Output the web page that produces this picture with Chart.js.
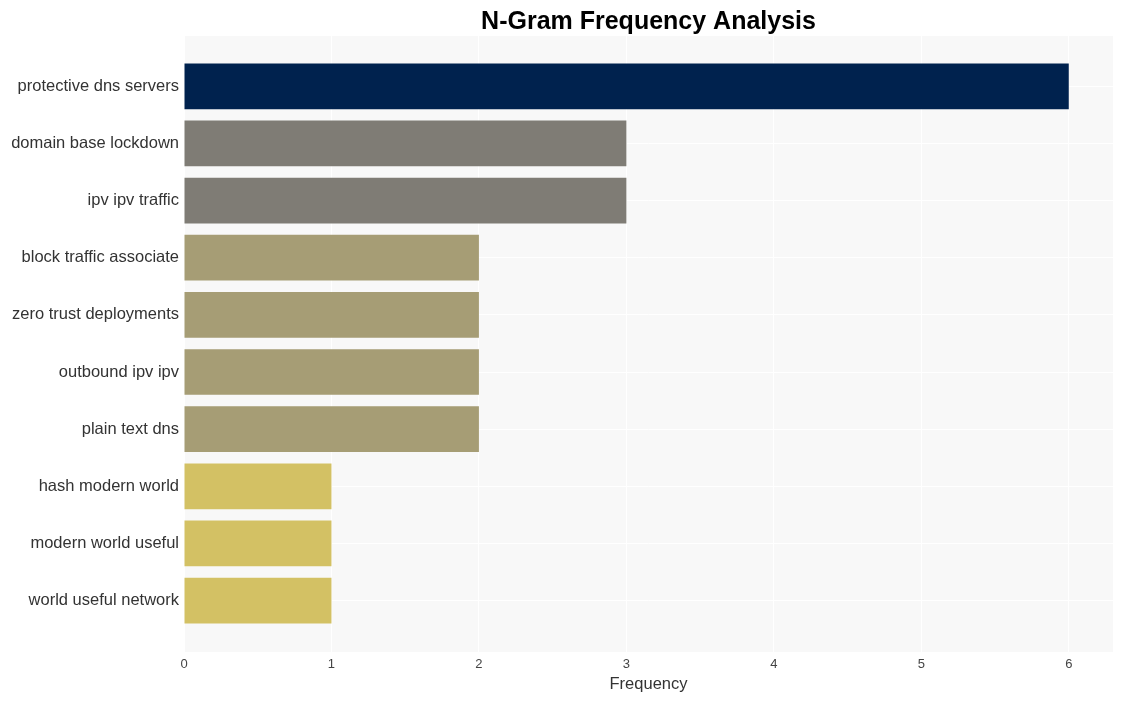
<!DOCTYPE html>
<html>
<head>
<meta charset="utf-8">
<script src="https://cdn.jsdelivr.net/npm/chart.js@4"></script>
<style>
html,body{margin:0;padding:0;background:#fff;}
canvas{display:block;}
</style>
</head>
<body>
<canvas id="c" width="1124" height="701"></canvas>
<script>
const categories = ["protective dns servers","domain base lockdown","ipv ipv traffic","block traffic associate","zero trust deployments","outbound ipv ipv","plain text dns","hash modern world","modern world useful","world useful network"];
const frequencies = [6,3,3,2,2,2,2,1,1,1];
const barColors = ["#00224e","#7f7c75","#7f7c75","#a69d75","#a69d75","#a69d75","#a69d75","#d3c164","#d3c164","#d3c164"];
const xTickValues = [0,1,2,3,4,5,6];

const points = categories.map((c, i) => ({ x: frequencies[i], y: i }));

const bgPlugin = {
  id: 'plotBg',
  beforeDraw(chart) {
    const {ctx, chartArea: a} = chart;
    ctx.save();
    ctx.fillStyle = '#f8f8f8';
    ctx.fillRect(a.left, a.top, a.right - a.left, a.bottom - a.top);
    ctx.restore();
  }
};

const font = 'Liberation Sans, Arial, sans-serif';

new Chart(document.getElementById('c'), {
  type: 'bar',
  data: {
    datasets: [{
      data: points,
      backgroundColor: barColors,
      borderWidth: 0,
      categoryPercentage: 1,
      barPercentage: 0.8
    }]
  },
  options: {
    indexAxis: 'y',
    responsive: false,
    animation: false,
    devicePixelRatio: 1,
    layout: { padding: { left: 0, right: 11, top: 0, bottom: 0 } },
    plugins: {
      legend: { display: false },
      tooltip: { enabled: false },
      title: {
        display: true,
        fullSize: false,
        text: 'N-Gram Frequency Analysis',
        color: '#000',
        font: { family: font, size: 25, weight: 'bold' },
        padding: { top: 7, bottom: -1 }
      }
    },
    scales: {
      x: {
        type: 'linear',
        min: 0,
        max: 6.3,
        afterFit(s) { s.height = 49; },
        afterBuildTicks(s) { s.ticks = xTickValues.map(v => ({ value: v })); },
        ticks: {
          color: '#444',
          padding: 5,
          font: { family: font, size: 13 }
        },
        grid: { color: '#ffffff', lineWidth: 1, drawTicks: false },
        border: { display: false },
        title: {
          display: true,
          text: 'Frequency',
          color: '#333',
          font: { family: font, size: 16.5 },
          padding: { top: 0, bottom: 7 }
        }
      },
      y: {
        type: 'linear',
        reverse: true,
        offset: false,
        min: -0.88,
        max: 9.9,
        afterFit(s) { s.width = 184; },
        afterBuildTicks(s) { s.ticks = categories.map((c, i) => ({ value: i })); },
        ticks: {
          color: '#333',
          padding: 5,
          font: { family: font, size: 16.5 },
          callback: (v) => categories[v]
        },
        grid: { color: '#ffffff', lineWidth: 1, drawTicks: false, offset: false },
        border: { display: false }
      }
    }
  },
  plugins: [bgPlugin]
});
</script>
</body>
</html>
